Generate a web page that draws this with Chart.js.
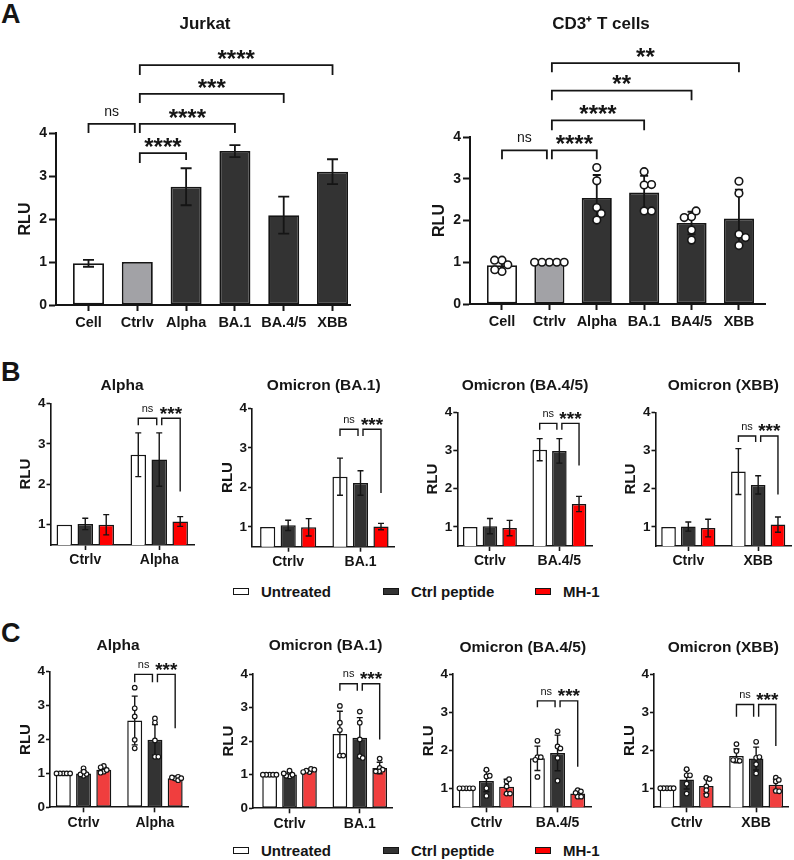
<!DOCTYPE html>
<html>
<head>
<meta charset="utf-8">
<script src="https://cdn.jsdelivr.net/npm/chart.js@4.4.0/dist/chart.umd.min.js"></script>
<style>
  body { margin: 0; background: #fff; }
  #fig { position: relative; width: 794px; height: 860px; font-family: 'Liberation Sans', Arial, sans-serif; color: #151515; }
  #fig canvas { position: absolute; }
  .letter { position: absolute; font-weight: bold; font-size: 27px; line-height: 1; }
  .lg { position: absolute; height: 20px; display: flex; align-items: center; font-weight: bold; font-size: 15px; white-space: nowrap; }
  .sw { display: inline-block; width: 14px; height: 5px; border: 1.6px solid #151515; margin-right: 12px; }
</style>
</head>
<body>
<div id="fig">
  <div class="letter" style="left:1px;top:1px">A</div>
  <div class="letter" style="left:1px;top:359px">B</div>
  <div class="letter" style="left:1px;top:620px">C</div>
</div>
<script>
// ---------------- data ----------------
var catsJurkat = ['Cell', 'Ctrlv', 'Alpha', 'BA.1', 'BA.4/5', 'XBB'];
var catsCd3 = ['Cell', 'Ctrlv', 'Alpha', 'BA.1', 'BA4/5', 'XBB'];
var jurkatMean = [0.97, 1.00, 2.75, 3.58, 2.09, 3.10];
var jurkatSd = [0.08, 0, 0.43, 0.14, 0.43, 0.29];
var cd3Mean = [0.93, 1.00, 2.54, 2.67, 1.94, 2.05];
var cd3Sd = [0.12, 0, 0.55, 0.40, 0.27, 0.69];
var cd3Pts = [
    [1.05, 0.78, 0.94, 1.05, 0.82],
    [1, 1, 1, 1, 1],
    [3.27, 2.95, 2.31, 2.17, 2.01],
    [3.17, 2.85, 2.86, 2.23, 2.23],
    [2.09, 2.23, 2.07, 1.77, 1.53],
    [2.94, 2.65, 1.67, 1.59, 1.40]
];
var yTicksFull = [0, 1, 2, 3, 4];
var yTicksCut = [1, 2, 3, 4];

var groupNames = ['Untreated', 'Ctrl peptide', 'MH-1'];
var variantTitles = ['Alpha', 'Omicron (BA.1)', 'Omicron (BA.4/5)', 'Omicron (XBB)'];
var variantLabels = ['Alpha', 'BA.1', 'BA.4/5', 'XBB'];

// panel B: [Untreated, Ctrl peptide, MH-1] x [Ctrlv, variant]
var bAlphaMean = [[1.00, 2.73], [1.02, 2.61], [1.00, 1.08]];
var bAlphaSd = [[0, 0.54], [0.14, 0.66], [0.25, 0.12]];
var bBa1Mean = [[1.00, 2.27], [1.04, 2.11], [0.99, 1.01]];
var bBa1Sd = [[0, 0.47], [0.13, 0.31], [0.22, 0.08]];
var bBa45Mean = [[1.00, 3.02], [1.02, 2.99], [0.97, 1.60]];
var bBa45Sd = [[0, 0.29], [0.20, 0.32], [0.20, 0.20]];
var bXbbMean = [[1.00, 2.45], [1.01, 2.10], [0.97, 1.06]];
var bXbbSd = [[0, 0.60], [0.12, 0.24], [0.23, 0.20]];

// panel C: same layout plus the single replicates
var cAlphaMean = [[1.00, 2.56], [1.00, 1.99], [1.11, 0.86]];
var cAlphaSd = [[0, 0.72], [0.08, 0.45], [0.08, 0.05]];
var cAlphaPts = [
    [[1, 1, 1, 1, 1], [3.53, 2.92, 2.68, 1.99, 1.74]],
    [[0.93, 1.15, 0.98, 0.97, 1.05], [2.62, 2.50, 1.97, 1.49, 1.49]],
    [[1.05, 1.22, 1.10, 1.18, 1.02], [0.85, 0.90, 0.80, 0.88, 0.86]]
];
var cBa1Mean = [[1.00, 2.21], [1.01, 2.10], [1.12, 1.20]];
var cBa1Sd = [[0, 0.68], [0.07, 0.60], [0.05, 0.17]];
var cBa1Pts = [
    [[1, 1, 1, 1, 1], [3.05, 2.55, 2.33, 1.57, 1.57]],
    [[0.95, 1.12, 1.00, 0.97, 1.04], [2.88, 2.55, 2.05, 1.55, 1.50]],
    [[1.08, 1.17, 1.12, 1.15, 1.08], [1.48, 1.20, 1.15, 1.10, 1.10]]
];
var cBa45Mean = [[1.00, 1.79], [1.19, 1.93], [1.04, 0.86]];
var cBa45Sd = [[0, 0.32], [0.28, 0.47], [0.20, 0.10]];
var cBa45Pts = [
    [[1, 1, 1, 1, 1], [2.25, 1.82, 1.82, 1.75, 1.30]],
    [[1.49, 1.31, 1.33, 1.00, 0.80], [2.50, 2.10, 2.05, 1.80, 1.20]],
    [[1.18, 1.24, 1.05, 0.86, 0.86], [0.95, 0.92, 0.88, 0.78, 0.78]]
];
var cXbbMean = [[1.00, 1.85], [1.23, 1.78], [1.06, 1.09]];
var cXbbSd = [[0, 0.18], [0.25, 0.30], [0.20, 0.15]];
var cXbbPts = [
    [[1, 1, 1, 1, 1], [2.16, 1.98, 1.74, 1.72, 1.74]],
    [[1.50, 1.34, 1.34, 1.12, 0.86], [2.22, 1.80, 1.82, 1.63, 1.39]],
    [[1.27, 1.24, 1.05, 0.95, 0.82], [1.28, 1.18, 1.22, 0.93, 0.92]]
];

// significance: [from, to, bracket height, left leg end, right leg end, label]
var sigJurkat = [
    [0, 1, 4.21, 4.00, 4.00, 'ns'],
    [1, 2, 3.53, 3.30, 3.37, '****'],
    [1, 3, 4.21, 4.00, 4.00, '****'],
    [1, 4, 4.91, 4.70, 4.70, '***'],
    [1, 5, 5.58, 5.35, 5.35, '****']
];
var sigCd3 = [
    [0, 1, 3.68, 3.47, 3.47, 'ns'],
    [1, 2, 3.68, 3.47, 3.47, '****'],
    [1, 3, 4.40, 4.16, 4.16, '****'],
    [1, 4, 5.11, 4.88, 4.88, '**'],
    [1, 5, 5.77, 5.55, 5.55, '**']
];
var sigBAlpha = [[0, 1, 3.63, 3.46, 3.46, 'ns'], [1, 2, 3.63, 3.46, 1.82, '***']];
var sigBBa1 = [[0, 1, 3.47, 3.30, 3.30, 'ns'], [1, 2, 3.47, 3.30, 1.86, '***']];
var sigBBa45 = [[0, 1, 3.71, 3.54, 3.54, 'ns'], [1, 2, 3.71, 3.54, 2.61, '***']];
var sigBXbb = [[0, 1, 3.38, 3.22, 3.22, 'ns'], [1, 2, 3.38, 3.22, 1.85, '***']];
var sigCAlpha = [[0, 1, 3.92, 3.69, 3.69, 'ns'], [1, 2, 3.92, 3.69, 2.33, '***']];
var sigCBa1 = [[0, 1, 3.71, 3.50, 3.50, 'ns'], [1, 2, 3.71, 3.50, 2.05, '***']];
var sigCBa45 = [[0, 1, 3.30, 3.13, 3.13, 'ns'], [1, 2, 3.30, 3.13, 1.57, '***']];
var sigCXbb = [[0, 1, 3.20, 2.88, 2.88, 'ns'], [1, 2, 3.20, 2.88, 2.11, '***']];

// ---------------- styles ----------------
var fontFam = "'Liberation Sans', Arial, sans-serif";
var ink = '#151515';
var colorsA = ['#ffffff', '#a2a2a6', '#333333', '#333333', '#333333', '#333333'];
var fillsB = ['#ffffff', '#333333', '#ff0000'];
var fillsC = ['#ffffff', '#333333', '#f03e3e'];
var legendX = [233, 383, 535];

var stA = { xfs: 14.5, yfs: 14, xtl: 6, xpad: 3, ytl: 7, ypad: 2, axisW: 2, border: 1.8, rlu: 16, rluGap: 30,
    titleFs: 17, errW: 1.8, capW: 10, starFs: 24, nsFs: 14, labelGap: 11.7, ptR: 3.8, ptW: 1.6, swarmD: 7.4 };
var stB = { xfs: 14, yfs: 13.5, xtl: 5, xpad: 2, ytl: 4, ypad: 1, axisW: 1.6, border: 1.5, rlu: 15, rluGap: 24.5,
    titleFs: 15.5, errW: 1.4, capW: 6, starFs: 19, nsFs: 11, labelGap: 9.2, ptR: 2.3, ptW: 1.2, swarmD: 3.4 };

var fig = document.getElementById('fig');

function addCanvas(box) {
    var c = document.createElement('canvas');
    c.width = box[2];
    c.height = box[3];
    c.style.left = box[0] + 'px';
    c.style.top = box[1] + 'px';
    fig.appendChild(c);
    return c;
}

// draws error bars, bracket lines and the panel title
function decoPlugin(o) {
    var st = o.st;
    return {
        id: 'deco',
        afterDatasetDraw: function (chart, args) {
            var ds = chart.data.datasets[args.index];
            if (!ds.errs) return;
            var ys = chart.scales.y, ctx = chart.ctx, bottom = chart.chartArea.bottom;
            var h = (o.capW || st.capW) / 2;
            ctx.save();
            ctx.strokeStyle = ink;
            ctx.lineWidth = st.errW;
            args.meta.data.forEach(function (el, i) {
                var sd = ds.errs[i];
                if (!sd) return;
                var m = ds.data[i].y;
                var yt = ys.getPixelForValue(m + sd);
                var yb = Math.min(ys.getPixelForValue(m - sd), bottom);
                ctx.beginPath();
                ctx.moveTo(el.x, yt); ctx.lineTo(el.x, yb);
                ctx.moveTo(el.x - h, yt); ctx.lineTo(el.x + h, yt);
                ctx.moveTo(el.x - h, yb); ctx.lineTo(el.x + h, yb);
                ctx.stroke();
            });
            ctx.restore();
        },
        afterDraw: function (chart) {
            var ctx = chart.ctx, ys = chart.scales.y;
            ctx.save();
            ctx.fillStyle = ink;
            ctx.textAlign = 'center';
            ctx.textBaseline = 'middle';
            ctx.font = 'bold ' + st.titleFs + 'px ' + fontFam;
            ctx.fillText(o.title, o.titleXY[0] - o.box[0], o.titleXY[1] - o.box[1]);

            var shared = {};
            o.sig.forEach(function (s) {
                o.sig.forEach(function (t) { if (s[1] === t[0]) shared[s[1]] = true; });
            });
            ctx.strokeStyle = ink;
            ctx.lineWidth = st.errW;
            ctx.textBaseline = 'alphabetic';
            o.sig.forEach(function (s) {
                var xa = o.endX(chart, s[0]) + (shared[s[0]] ? 2.5 : 0);
                var xb = o.endX(chart, s[1]) - (shared[s[1]] ? 2.5 : 0);
                var yTop = ys.getPixelForValue(s[2]);
                ctx.beginPath();
                ctx.moveTo(xa, ys.getPixelForValue(s[3]));
                ctx.lineTo(xa, yTop);
                ctx.lineTo(xb, yTop);
                ctx.lineTo(xb, ys.getPixelForValue(s[4]));
                ctx.stroke();
                var star = s[5].charAt(0) === '*';
                var fs = star ? st.starFs : st.nsFs;
                ctx.font = (star ? 'bold ' : '') + fs + 'px ' + fontFam;
                ctx.fillText(s[5], (xa + xb) / 2, yTop - st.labelGap + (star ? 0.56 : 0.26) * fs);
            });
            ctx.restore();
        }
    };
}

// beeswarm: spread replicate points sideways so they do not overlap
function swarm(chart, groups, d) {
    var xs = chart.scales.x, ys = chart.scales.y, out = [];
    groups.forEach(function (g) {
        var cx = chart.getDatasetMeta(g.ds).data[g.i].x;
        var placed = [];
        g.vals.forEach(function (v) {
            var py = ys.getPixelForValue(v);
            var cand = [0];
            placed.forEach(function (p) {
                var dy = py - p.y;
                if (Math.abs(dy) < d) {
                    var w = Math.sqrt(d * d - dy * dy);
                    cand.push(p.x + w, p.x - w);
                }
            });
            cand.sort(function (a, b) { return Math.abs(a) - Math.abs(b) || b - a; });
            var dx = cand.find(function (c) {
                return placed.every(function (p) { return Math.hypot(c - p.x, py - p.y) >= d - 0.01; });
            });
            placed.push({ x: dx, y: py });
            out.push({ x: xs.getValueForPixel(cx + dx), y: v });
        });
    });
    return out;
}

function buildChart(o) {
    var st = o.st;
    var canvas = addCanvas(o.box);
    var datasets = o.datasets.slice();
    if (o.pts) {
        datasets.push({
            type: 'scatter', data: [], order: -1,
            pointRadius: st.ptR, pointBorderWidth: st.ptW,
            pointBackgroundColor: '#ffffff', pointBorderColor: ink
        });
    }
    var yw = o.area[0] - o.box[0];
    var chart = new Chart(canvas, {
        type: 'bar',
        data: { datasets: datasets },
        options: {
            responsive: false,
            animation: false,
            events: [],
            layout: { padding: { top: o.area[1] - o.box[1], left: 0, bottom: 0, right: o.box[0] + o.box[2] - o.area[2] } },
            plugins: { legend: { display: false }, tooltip: { enabled: false } },
            datasets: { bar: { categoryPercentage: o.cp, barPercentage: o.bp } },
            scales: {
                x: {
                    type: 'linear', min: o.xMin, max: o.xMax, offset: false, z: 1,
                    afterBuildTicks: function (s) { s.ticks = o.xLabels.map(function (l, i) { return { value: i }; }); },
                    afterFit: function (s) { s.height = o.box[1] + o.box[3] - o.area[3]; },
                    grid: { drawOnChartArea: false, offset: false, tickLength: st.xtl, tickWidth: st.axisW, tickColor: ink },
                    border: { color: ink, width: st.axisW },
                    ticks: {
                        autoSkip: false, maxRotation: 0, padding: st.xpad, color: ink,
                        font: { family: fontFam, size: st.xfs, weight: 'bold' },
                        callback: function (v) { return o.xLabels[v]; }
                    }
                },
                y: {
                    min: o.yMin, max: 4, z: 1,
                    afterBuildTicks: function (s) { s.ticks = o.yTicks.map(function (v) { return { value: v }; }); },
                    afterFit: function (s) { s.width = yw; },
                    grid: { drawOnChartArea: false, tickLength: st.ytl, tickWidth: st.axisW, tickColor: ink },
                    border: { color: ink, width: st.axisW },
                    ticks: { padding: st.ypad, color: ink, font: { family: fontFam, size: st.yfs, weight: 'bold' } },
                    title: {
                        display: true, text: 'RLU', color: ink,
                        font: { family: fontFam, size: st.rlu, weight: 'bold' },
                        padding: { top: yw - st.rluGap - st.rlu * 0.6, bottom: 0 }
                    }
                }
            }
        },
        plugins: [decoPlugin(o)]
    });
    if (o.pts) {
        chart.data.datasets[datasets.length - 1].data = swarm(chart, o.pts, st.swarmD);
        chart.update('none');
    }
    return chart;
}

// ---------------- panel A ----------------
function panelA(box, area, xMin, xMax, labels, means, sds, pts, sig, title, titleXY, capW) {
    var groups = null;
    if (pts) {
        groups = pts.map(function (vals, i) { return { ds: 0, i: i, vals: vals }; });
    }
    buildChart({
        st: stA, box: box, area: area, xMin: xMin, xMax: xMax, yMin: 0, yTicks: yTicksFull,
        xLabels: labels, cp: 0.8, bp: 0.794, title: title, titleXY: titleXY, sig: sig, capW: capW,
        datasets: [{
            data: means.map(function (m, i) { return { x: i, y: m }; }),
            errs: sds,
            backgroundColor: colorsA, borderColor: ink, borderWidth: stA.border, borderSkipped: false
        }],
        pts: groups,
        endX: function (chart, k) { return chart.getDatasetMeta(0).data[k].x; }
    });
}

panelA([0, 0, 358, 340], [56, 133, 350, 305], -0.666, 5.358, catsJurkat, jurkatMean, jurkatSd, null,
    sigJurkat, 'Jurkat', [205, 24], 11);
panelA([414, 0, 358, 340], [470, 137, 765, 304], -0.675, 5.55, catsCd3, cd3Mean, cd3Sd, cd3Pts,
    sigCd3, 'CD3\u207A T cells', [601, 24], 8);

// ---------------- panels B and C ----------------
function panelBC(box, area, xMin, yMin, v, means, sds, pts, fills, sig, titleXY) {
    var datasets = means.map(function (row, s) {
        return {
            data: row.map(function (m, g) { return { x: g, y: m }; }),
            errs: sds[s],
            backgroundColor: fills[s], borderColor: ink, borderWidth: stB.border, borderSkipped: false
        };
    });
    var groups = null;
    if (pts) {
        groups = [];
        pts.forEach(function (series, s) {
            series.forEach(function (vals, g) { groups.push({ ds: s, i: g, vals: vals }); });
        });
    }
    buildChart({
        st: stB, box: box, area: area, xMin: xMin, xMax: 1.47, yMin: yMin,
        yTicks: yMin > 0 ? yTicksCut : yTicksFull,
        xLabels: ['Ctrlv', variantLabels[v]], cp: 0.85, bp: 0.74,
        title: variantTitles[v], titleXY: titleXY, sig: sig,
        datasets: datasets, pts: groups,
        endX: function (chart, k) { return chart.getDatasetMeta(k).data[1].x; }
    });
}

panelBC([0, 370, 200, 205], [50.5, 403.3, 194, 545], -0.47, 0.5, 0, bAlphaMean, bAlphaSd, null, fillsB, sigBAlpha, [122, 386]);
panelBC([200, 370, 198, 205], [252, 408.3, 394.5, 546.7], -0.5, 0.5, 1, bBa1Mean, bBa1Sd, null, fillsB, sigBBa1, [323.7, 386]);
panelBC([404, 370, 194, 205], [457.3, 412.3, 592, 546], -0.47, 0.5, 2, bBa45Mean, bBa45Sd, null, fillsB, sigBBa45, [525, 386]);
panelBC([602, 370, 192, 205], [655.5, 412.3, 791, 546], -0.47, 0.5, 3, bXbbMean, bXbbSd, null, fillsB, sigBXbb, [723.3, 386]);

panelBC([0, 632, 200, 205], [50, 671.7, 188.5, 807.3], -0.47, 0, 0, cAlphaMean, cAlphaSd, cAlphaPts, fillsC, sigCAlpha, [118, 646]);
panelBC([200, 632, 198, 205], [253, 674, 393, 808.3], -0.52, 0, 1, cBa1Mean, cBa1Sd, cBa1Pts, fillsC, sigCBa1, [325.5, 646]);
panelBC([404, 632, 194, 205], [453, 674.3, 591, 807.3], -0.47, 0.5, 2, cBa45Mean, cBa45Sd, cBa45Pts, fillsC, sigCBa45, [522.8, 647.7]);
panelBC([602, 632, 192, 205], [654, 674, 791.5, 807.3], -0.47, 0.5, 3, cXbbMean, cXbbSd, cXbbPts, fillsC, sigCXbb, [723.3, 647.7]);

// ---------------- legends ----------------
function addLegend(cy, fills) {
    groupNames.forEach(function (name, k) {
        var it = document.createElement('div');
        it.className = 'lg';
        it.style.left = legendX[k] + 'px';
        it.style.top = (cy - 10) + 'px';
        var sw = document.createElement('span');
        sw.className = 'sw';
        sw.style.background = k === 2 ? '#ff0000' : fills[k];
        it.appendChild(sw);
        it.appendChild(document.createTextNode(name));
        fig.appendChild(it);
    });
}
addLegend(591.7, fillsB);
addLegend(850, fillsC);
</script>
</body>
</html>
